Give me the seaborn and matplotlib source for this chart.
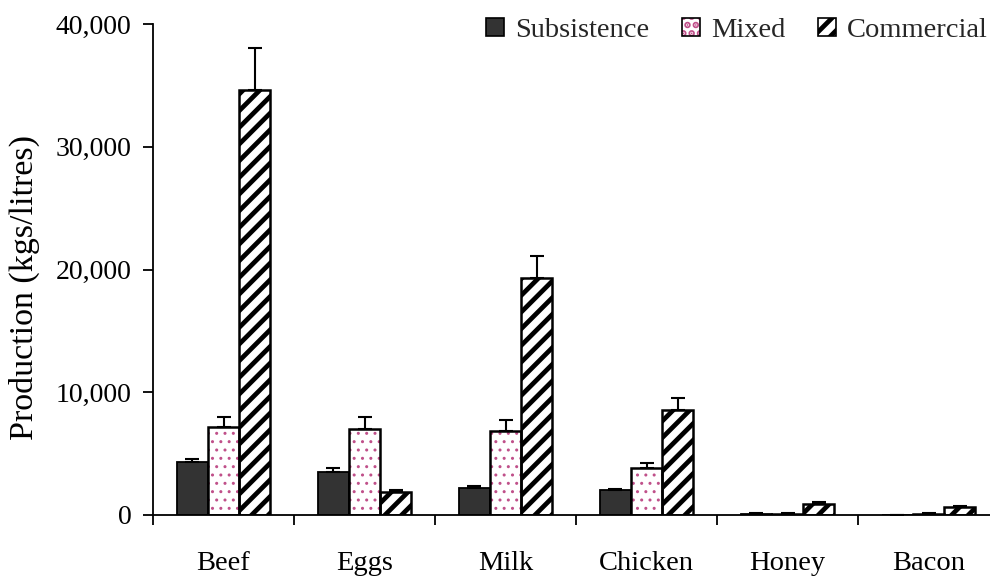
import matplotlib
matplotlib.use("Agg")
import matplotlib.pyplot as plt
import seaborn as sns
import pandas as pd
from matplotlib.patches import Rectangle, Patch
from matplotlib.legend_handler import HandlerTuple
from matplotlib.ticker import FuncFormatter

categories = ["Beef", "Eggs", "Milk", "Chicken", "Honey", "Bacon"]
systems = ["Subsistence", "Mixed", "Commercial"]
subsistence = [4300, 3500, 2200, 2000, 120, 0]
mixed = [7200, 7000, 6850, 3800, 120, 100]
commercial = [34600, 1850, 19300, 8550, 900, 650]
subsistence_err = [300, 300, 150, 150, 30, 0]
mixed_err = [800, 1000, 900, 450, 30, 30]
commercial_err = [3450, 200, 1800, 950, 130, 80]
yticks = [0, 10000, 20000, 30000, 40000]

sns.set_theme(style="white")
plt.rcParams["font.family"] = ["Liberation Serif", "DejaVu Serif"]
plt.rcParams["hatch.linewidth"] = 3.4

DARK = "#333333"
PINK = "#c0508a"

rows = []
for sysname, vals in zip(systems, [subsistence, mixed, commercial]):
    for c, v in zip(categories, vals):
        rows.append({"Category": c, "System": sysname, "Production": v})
df = pd.DataFrame(rows)

fig = plt.figure(figsize=(9.9, 5.77), dpi=100)
ax = fig.add_axes([153 / 990, 62 / 577, 846 / 990, 491 / 577])

sns.barplot(data=df, x="Category", y="Production", hue="System",
            order=categories, hue_order=systems,
            palette=[DARK, "white", "white"], width=0.66,
            errorbar=None, legend=False, ax=ax, saturation=1)

errs = [subsistence_err, mixed_err, commercial_err]
bar_containers = list(ax.containers)
for k, cont in enumerate(bar_containers):
    xs, ys = [], []
    for j, bar in enumerate(cont.patches):
        xs.append(bar.get_x() + bar.get_width() / 2)
        ys.append(bar.get_height())
        if k == 0:
            bar.set_facecolor(DARK)
            bar.set_edgecolor("black")
            bar.set_linewidth(1.3)
        elif k == 1:
            bar.set_facecolor("white")
            bar.set_edgecolor(PINK)
            bar.set_hatch("..")
            bar.set_linewidth(0)
            if hasattr(bar, "set_hatch_linewidth"):
                bar.set_hatch_linewidth(1.0)
            ax.add_patch(Rectangle((bar.get_x(), bar.get_y()), bar.get_width(),
                                   bar.get_height(), fill=False,
                                   edgecolor="black", linewidth=1.8, zorder=3))
        else:
            bar.set_facecolor("white")
            bar.set_edgecolor("black")
            bar.set_hatch("//")
            bar.set_linewidth(1.8)
    ax.errorbar(xs, ys, yerr=[[0] * len(ys), errs[k]], fmt="none",
                ecolor="black", elinewidth=1.5, capsize=4.8, capthick=1.5,
                zorder=1)

ax.set_ylim(0, 40000)
ax.set_xlim(-0.5, 5.5)
ax.set_yticks(yticks)
ax.yaxis.set_major_formatter(FuncFormatter(lambda v, p: f"{int(v):,}"))
ax.set_xticks([i - 0.5 for i in range(len(categories))])
ax.set_xticklabels([])
ax.set_xticks(range(len(categories)), minor=True)
ax.set_xticklabels(categories, minor=True)
ax.tick_params(axis="x", which="major", direction="out", length=7.5,
               width=1.3, color="black", bottom=True)
ax.tick_params(axis="x", which="minor", length=0, labelsize=20.5, pad=26,
               labelcolor="black")
ax.tick_params(axis="y", direction="out", length=7.5, width=1.3,
               color="black", left=True, labelsize=20, labelcolor="black", pad=8)
for s in ["top", "right"]:
    ax.spines[s].set_visible(False)
for s in ["left", "bottom"]:
    ax.spines[s].set_color("black")
    ax.spines[s].set_linewidth(1.3)
ax.set_xlabel("")
ax.set_ylabel("Production (kgs/litres)", fontsize=24.5, color="black")
ax.yaxis.set_label_coords((40 - 153) / 846, (515 - 287) / 491)

h1 = Patch(facecolor=DARK, edgecolor="black", linewidth=1.2)
h2a = Patch(facecolor="white", edgecolor=PINK, hatch="..", linewidth=0)
h2b = Patch(facecolor="none", edgecolor="black", linewidth=1.2)
h3 = Patch(facecolor="white", edgecolor="black", hatch="//", linewidth=1.2)
fig.legend([h1, (h2a, h2b), h3], systems, ncol=3, loc="upper right",
           bbox_to_anchor=(1.021, 1.009), frameon=False, fontsize=20.5,
           handlelength=0.62, handleheight=0.62, handletextpad=0.4,
           columnspacing=1.15, borderpad=0.3,
           handler_map={tuple: HandlerTuple(ndivide=1)})

fig.savefig("out.png", dpi=100)
